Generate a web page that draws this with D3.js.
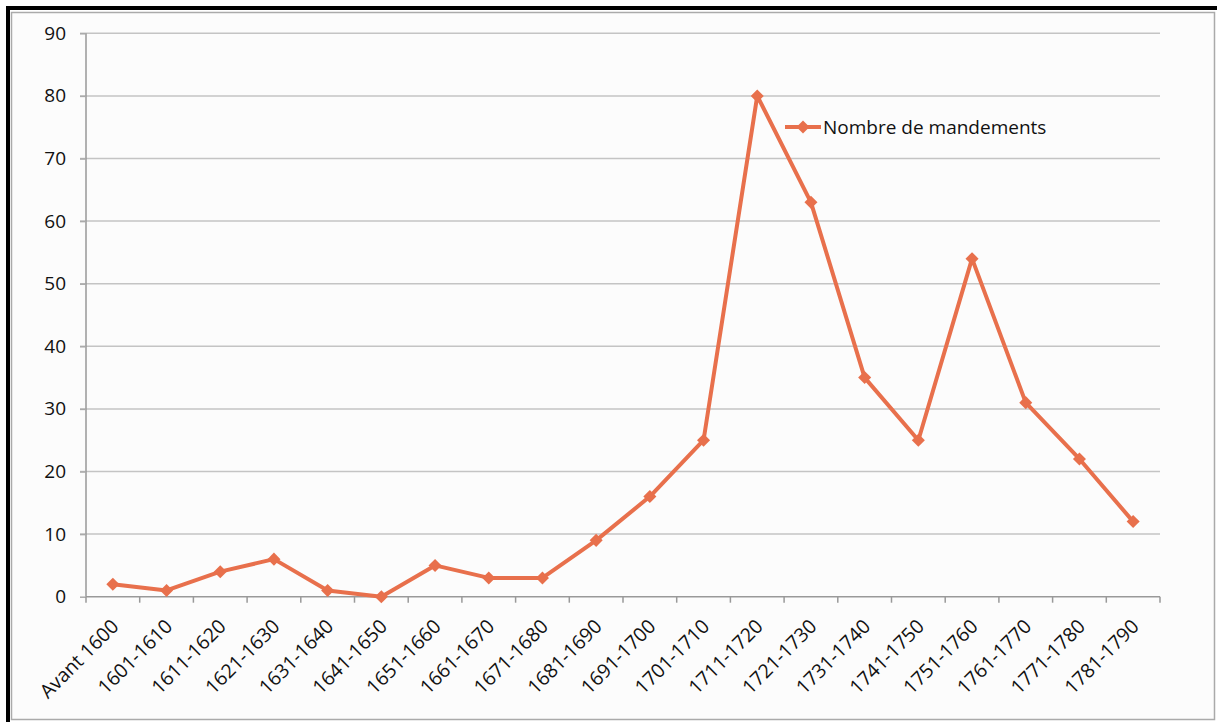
<!DOCTYPE html>
<html><head><meta charset="utf-8">
<script src="https://cdn.jsdelivr.net/npm/d3@7"></script>
<style>body{margin:0;background:#fff}svg{display:block}</style>
</head><body>
<svg id="c" width="1217" height="722"></svg>
<script>
const categories = ["Avant 1600","1601-1610","1611-1620","1621-1630","1631-1640","1641-1650","1651-1660","1661-1670","1671-1680","1681-1690","1691-1700","1701-1710","1711-1720","1721-1730","1731-1740","1741-1750","1751-1760","1761-1770","1771-1780","1781-1790"];
const values = [2,1,4,6,1,0,5,3,3,9,16,25,80,63,35,25,54,31,22,12];
const yTicks = [0,10,20,30,40,50,60,70,80,90];
const seriesName = "Nombre de mandements";

(function(){
const svg = d3.select("#c");
const font = "'Open Sans', sans-serif";
const color = "#E8704C";
// frame
svg.append("rect").attr("x",0).attr("y",0).attr("width",1217).attr("height",722).attr("fill","#fff");
svg.append("rect").attr("x",8).attr("y",8).attr("width",1220).attr("height",720).attr("fill","none").attr("stroke","#000").attr("stroke-width",4);
svg.append("rect").attr("x",11.5).attr("y",12.5).attr("width",1203).attr("height",707).attr("fill","#fcfcfc").attr("stroke","#aaa").attr("stroke-width",1.5);

const pl=86, pr=1160, pt=33.3, pb=596.7;
const x = d3.scaleBand().domain(categories).range([pl,pr]).padding(0);
const y = d3.scaleLinear().domain([0,90]).range([pb,pt]);

// gridlines
svg.append("g").selectAll("line").data(yTicks.filter(d=>d>0)).join("line")
  .attr("x1",pl-6).attr("x2",pr).attr("y1",d=>y(d)).attr("y2",d=>y(d))
  .attr("stroke","#c4c4c4").attr("stroke-width",1.5);

// y axis
const ya = svg.append("g").attr("transform",`translate(${pl},0)`)
  .call(d3.axisLeft(y).tickValues(yTicks).tickSize(6).tickPadding(14));
ya.select(".domain").attr("stroke","#999").attr("stroke-width",1.5).attr("d",`M0,${pt}V${pb}`);
ya.selectAll(".tick line").attr("stroke","#aaa").attr("stroke-width",1.5);
ya.selectAll("text").attr("font-family",font).attr("font-size",19).attr("fill","#111");

// x axis
const xa = svg.append("g").attr("transform",`translate(0,${pb})`)
  .call(d3.axisBottom(x).tickSize(0).tickFormat(""));
xa.select(".domain").attr("stroke","#999").attr("stroke-width",1.5).attr("d",`M${pl},0H${pr}`);
xa.selectAll(".tick line").remove();
const bounds = categories.map(c=>x(c)).concat([pr]);
xa.selectAll("line.tk").data(bounds).join("line").attr("class","tk")
  .attr("x1",d=>d).attr("x2",d=>d).attr("y1",0).attr("y2",6).attr("stroke","#999").attr("stroke-width",1.5);
xa.selectAll("text.lbl").data(categories).join("text").attr("class","lbl")
  .attr("transform",d=>`translate(${x(d)+x.bandwidth()/2+7},${31}) rotate(-45)`)
  .attr("text-anchor","end").attr("font-family",font).attr("font-size",19.5).attr("fill","#111")
  .text(d=>d);

// line
const cx = d=>x(d)+x.bandwidth()/2;
svg.append("path").datum(values.map((v,i)=>[cx(categories[i]),y(v)]))
  .attr("d",d3.line()).attr("fill","none").attr("stroke",color).attr("stroke-width",4).attr("stroke-linejoin","round");
const diamond = d3.symbol().type(d3.symbolSquare).size(85);
svg.append("g").selectAll("path").data(values).join("path")
  .attr("transform",(v,i)=>`translate(${cx(categories[i])},${y(v)}) rotate(45)`)
  .attr("d",diamond).attr("fill",color);

// legend
const lg = svg.append("g").attr("transform","translate(785,127)");
lg.append("line").attr("x1",0).attr("x2",36).attr("stroke",color).attr("stroke-width",4);
lg.append("path").attr("transform","translate(18,0) rotate(45)").attr("d",diamond).attr("fill",color);
lg.append("text").attr("x",38).attr("y",7).attr("font-family",font).attr("font-size",19).attr("fill","#111").text(seriesName);
})();
</script>
</body></html>
